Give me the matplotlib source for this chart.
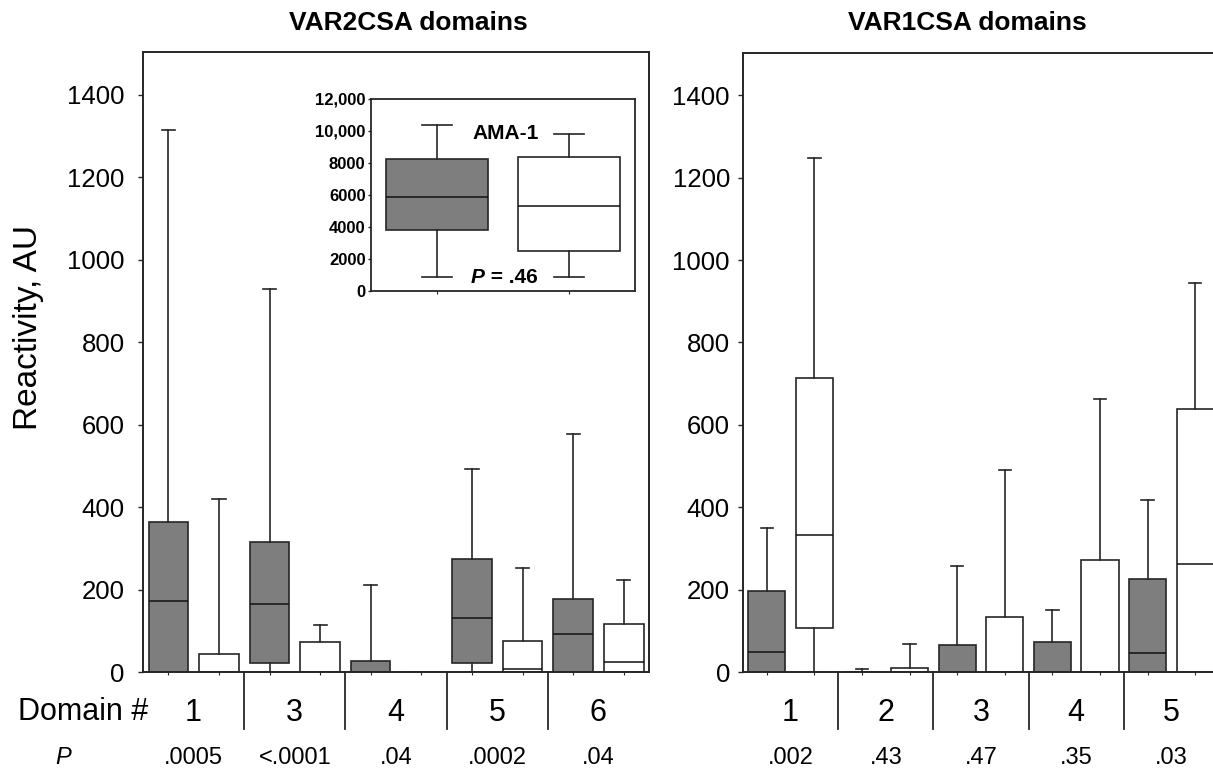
import matplotlib.pyplot as plt
import numpy as np

plt.rcParams['font.family'] = ['Liberation Sans', 'DejaVu Sans']

# VAR2CSA domains (left panel)
var2_domains = ['1', '3', '4', '5', '6']
var2_p = ['.0005', '<.0001', '.04', '.0002', '.04']
var2_grey_q1 = [0, 23, 0, 21, 0]
var2_grey_med = [171, 166, 0, 131, 91]
var2_grey_q3 = [364, 316, 27, 273, 176]
var2_grey_hi = [1315, 928, 212, 492, 576]
var2_white_q1 = [0, 0, 0, 0, 0]
var2_white_med = [0, 0, 0, 8, 24]
var2_white_q3 = [44, 72, 0, 75, 116]
var2_white_hi = [419, 115, 0, 252, 222]

# VAR1CSA domains (right panel)
var1_domains = ['1', '2', '3', '4', '5']
var1_p = ['.002', '.43', '.47', '.35', '.03']
var1_grey_q1 = [0, 0, 0, 0, 0]
var1_grey_med = [49, 0, 0, 0, 45]
var1_grey_q3 = [197, 0, 66, 72, 226]
var1_grey_hi = [350, 8, 258, 150, 418]
var1_white_q1 = [108, 0, 0, 0, 0]
var1_white_med = [332, 0, 0, 0, 261]
var1_white_q3 = [714, 10, 134, 272, 639]
var1_white_hi = [1247, 67, 490, 662, 945]

# AMA-1 inset
ama1_q1 = [3800, 2500]
ama1_med = [5900, 5300]
ama1_q3 = [8250, 8400]
ama1_lo = [900, 900]
ama1_hi = [10350, 9800]
ama1_p = '.46'

LINE = '#262626'
GREY = '#7e7e7e'


def make_stats(q1, med, q3, hi, lo=None):
    if lo is None:
        lo = [0] * len(q1)
    return [dict(q1=a, med=b, q3=c, whishi=d, whislo=e)
            for a, b, c, d, e in zip(q1, med, q3, hi, lo)]


def draw_boxes(ax, stats, pos, face, width, capw):
    ax.bxp(stats, positions=pos, widths=width, capwidths=capw,
           showfliers=False, patch_artist=True, manage_ticks=False,
           boxprops=dict(facecolor=face, edgecolor=LINE, linewidth=1.2),
           whiskerprops=dict(color=LINE, linewidth=1.2),
           capprops=dict(color=LINE, linewidth=1.2),
           medianprops=dict(color='#111111', linewidth=1.1))


def draw_panel(ax, domains, pvals, grey, white, pad):
    x = np.arange(len(domains))
    draw_boxes(ax, grey, x - 0.25, GREY, 0.39, 0.13)
    draw_boxes(ax, white, x + 0.25, 'white', 0.39, 0.13)
    ax.set_xlim(-0.5, len(domains) - 0.5)
    ax.set_ylim(0, 1503)
    ax.set_yticks(range(0, 1401, 200))
    ax.set_xticks(np.sort(np.concatenate([x - 0.25, x + 0.25])))
    ax.set_xticklabels([])
    ax.tick_params(axis='y', direction='out', length=3.6, width=1,
                   pad=pad, labelsize=18.5, color=LINE)
    ax.tick_params(axis='x', direction='out', length=2, width=0.8, color=LINE)
    for s in ax.spines.values():
        s.set_linewidth(1.4)
        s.set_color(LINE)
    tr = ax.get_xaxis_transform()
    for k in range(len(domains) - 1):
        ax.plot([k + 0.5, k + 0.5], [0, -0.092], transform=tr,
                clip_on=False, color=LINE, linewidth=1.3)
    for k, (d, p) in enumerate(zip(domains, pvals)):
        ax.text(k, -0.066, d, transform=tr, ha='center', va='center', fontsize=22)
        ax.text(k, -0.139, p, transform=tr, ha='center', va='center', fontsize=17)


fig = plt.figure(figsize=(12.13, 7.71), dpi=100)
ax1 = fig.add_axes([0.1179, 0.1284, 0.4172, 0.8040])
ax2 = fig.add_axes([0.6125, 0.1284, 0.3924, 0.8030])

draw_panel(ax1, var2_domains, var2_p,
           make_stats(var2_grey_q1, var2_grey_med, var2_grey_q3, var2_grey_hi),
           make_stats(var2_white_q1, var2_white_med, var2_white_q3, var2_white_hi),
           9.7)
draw_panel(ax2, var1_domains, var1_p,
           make_stats(var1_grey_q1, var1_grey_med, var1_grey_q3, var1_grey_hi),
           make_stats(var1_white_q1, var1_white_med, var1_white_q3, var1_white_hi),
           5.8)

fig.text(0.3364, 0.9702, 'VAR2CSA domains', ha='center', va='center',
         fontsize=19, fontweight='bold')
fig.text(0.7972, 0.9702, 'VAR1CSA domains', ha='center', va='center',
         fontsize=19, fontweight='bold')
fig.text(0.0231, 0.5746, 'Reactivity, AU', rotation=90, ha='center',
         va='center', fontsize=24)
fig.text(0.0684, 0.0765, 'Domain #', ha='center', va='center', fontsize=22)
fig.text(0.0519, 0.0169, 'P', ha='center', va='center', fontsize=17,
         style='italic')

# inset with AMA-1
axins = fig.add_axes([0.3059, 0.6226, 0.2176, 0.2490])
ama = make_stats(ama1_q1, ama1_med, ama1_q3, ama1_hi, ama1_lo)
draw_boxes(axins, ama[:1], [1], GREY, 0.77, 0.23)
draw_boxes(axins, ama[1:], [2], 'white', 0.77, 0.23)
axins.set_xlim(0.5, 2.5)
axins.set_ylim(0, 12000)
axins.set_yticks(range(0, 12001, 2000))
axins.set_yticklabels(['0', '2000', '4000', '6000', '8000', '10,000', '12,000'],
                      fontweight='bold')
axins.set_xticks([1, 2])
axins.set_xticklabels([])
axins.tick_params(axis='y', direction='out', length=2.5, width=1, pad=1.5,
                  labelsize=12, color=LINE)
axins.tick_params(axis='x', direction='out', length=2, width=0.8, color=LINE)
for s in axins.spines.values():
    s.set_linewidth(1.3)
    s.set_color(LINE)
axins.text(0.511, 0.818, 'AMA-1', transform=axins.transAxes, ha='center',
           va='center', fontsize=15, fontweight='bold')
ptxt = axins.text(0.379, 0.068, 'P', transform=axins.transAxes, ha='left',
                  va='center', fontsize=15, fontweight='bold', style='italic')
axins.annotate(' = ' + ama1_p, xy=(1, 0), xycoords=ptxt, ha='left',
               va='bottom', fontsize=15, fontweight='bold')

fig.savefig('out.png', dpi=100)
